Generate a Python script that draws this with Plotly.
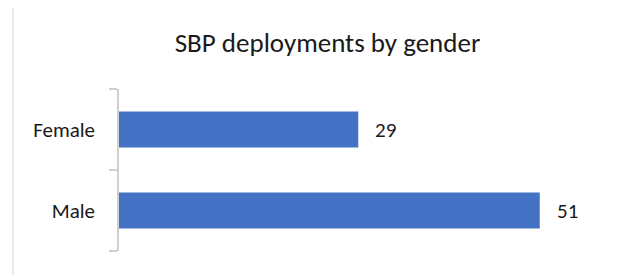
import plotly.graph_objects as go

categories = ["Female", "Male"]
values = [29, 51]
title_text = "SBP deployments by gender"

FONT = "Carlito, Calibri, Lato, sans-serif"
W, H = 644, 275
OFF = 8  # default page body margin
L, R, T, B = 119 - OFF, 30 + OFF, 89 - OFF, 24 + OFF
pw = W - L - R
ph = H - T - B

fig = go.Figure(go.Bar(
    x=values, y=categories, orientation="h",
    marker=dict(color="#4472C4", line=dict(width=0)),
    hoverinfo="skip",
))

for c, v in zip(categories, values):
    fig.add_annotation(x=v, y=c, xref="x", yref="y", text=str(v),
                       showarrow=False, xanchor="left", yanchor="middle",
                       xshift=15, font=dict(family=FONT, size=21, color="#1a1a1a"))

def px_x(p):
    return (p - OFF - L) / pw

def px_y(p):
    return (H - B - (p - OFF)) / ph

fig.add_shape(type="rect", xref="paper", yref="paper",
              x0=px_x(13), x1=px_x(642.5), y0=px_y(300), y1=px_y(5.5),
              line=dict(color="#d9d9d9", width=1.2), layer="below")

fig.update_layout(
    width=W, height=H,
    margin=dict(l=L, r=R, t=T, b=B, pad=0),
    paper_bgcolor="white", plot_bgcolor="white",
    showlegend=False,
    bargap=0.556,
    title=dict(text=title_text, x=(327.5 - OFF) / W, xanchor="center",
               y=1 - (43 - OFF) / H, yanchor="middle",
               font=dict(family=FONT, size=27, color="#1a1a1a")),
    xaxis=dict(range=[0, 60], visible=False, fixedrange=True),
    yaxis=dict(categoryorder="array", categoryarray=categories[::-1],
               range=[-0.5, 1.5],
               showline=True, linecolor="#d0d0d0", linewidth=1.5,
               ticks="outside", tickson="boundaries", ticklen=8,
               tickcolor="#d0d0d0", tickwidth=1.5,
               ticklabelstandoff=18,
               showgrid=False, zeroline=False,
               tickfont=dict(family=FONT, size=21, color="#1a1a1a"),
               fixedrange=True),
)

fig.write_html("out.html")
